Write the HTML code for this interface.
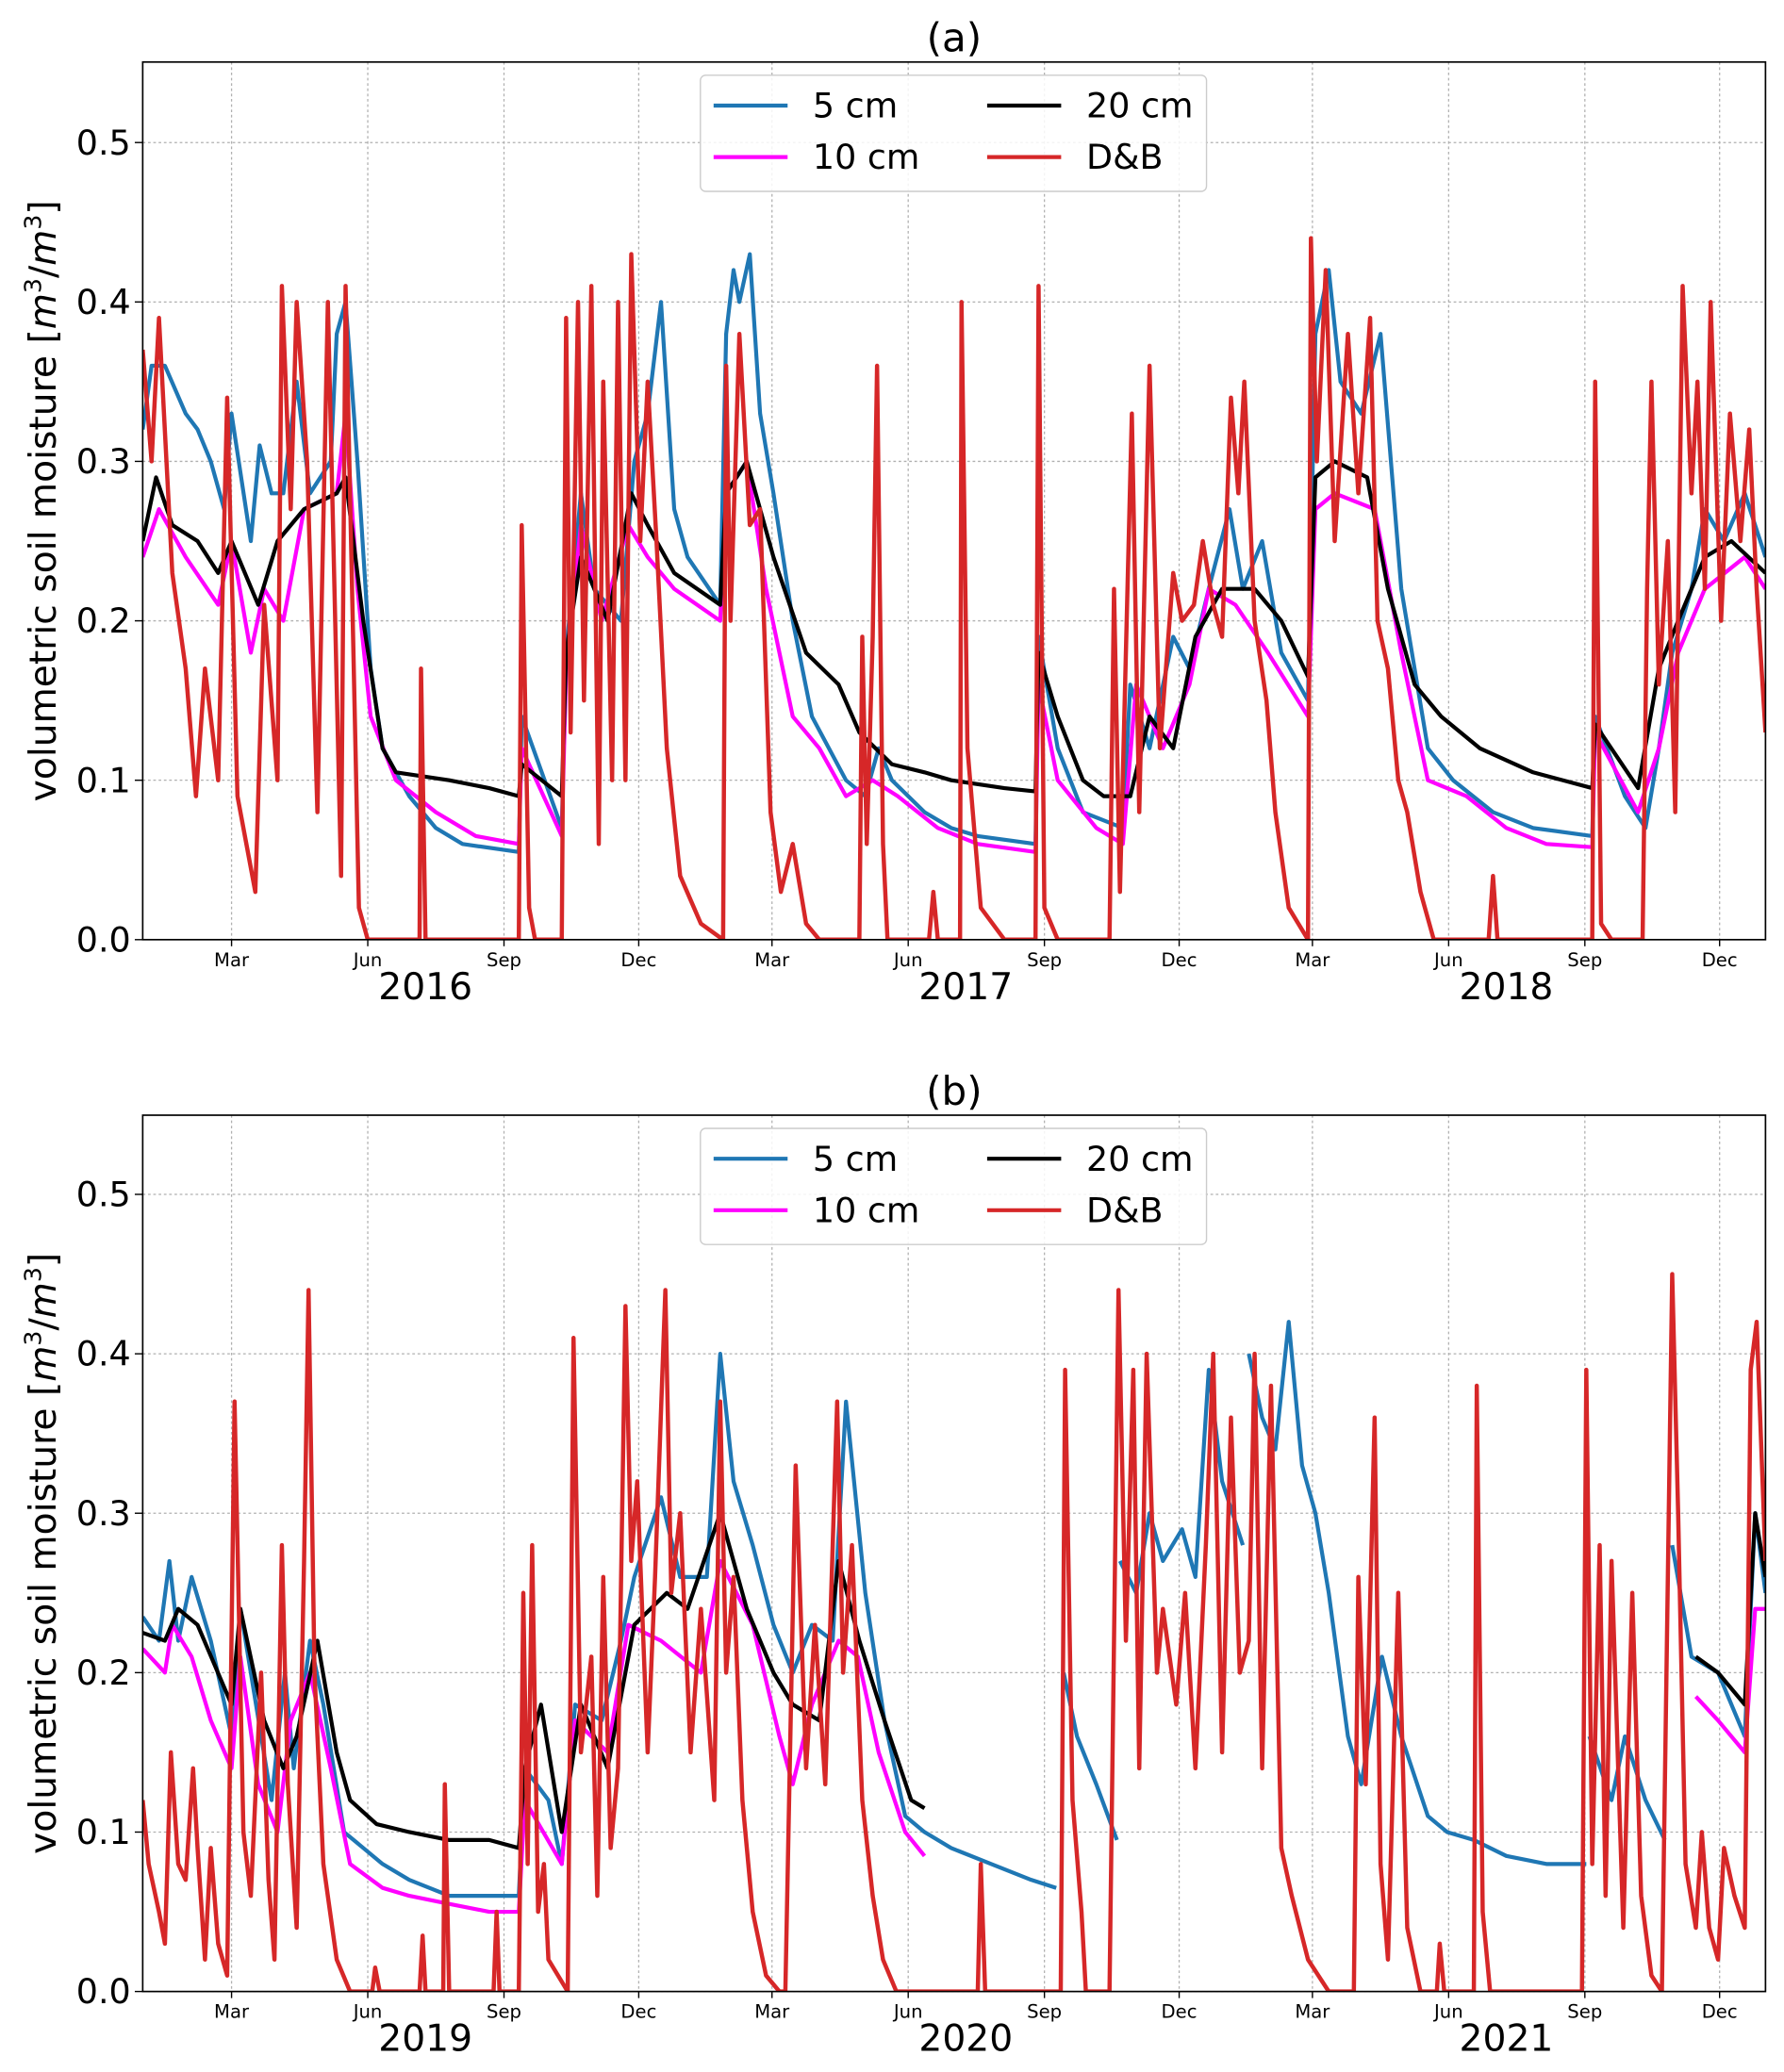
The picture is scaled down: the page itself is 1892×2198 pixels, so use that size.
<!DOCTYPE html>
<html><head><meta charset="utf-8">
<style>
html,body{margin:0;padding:0;background:#fff;}
svg{display:block;font-family:"DejaVu Sans","Liberation Sans",sans-serif;}
</style></head>
<body>
<svg id="chart" width="1892" height="2198" viewBox="0 0 1350 1570" preserveAspectRatio="none" xmlns="http://www.w3.org/2000/svg"></svg>
<script>
// ---- data: [day since Jan 1 of first year, volumetric soil moisture] ----
const yTicks = [0.0, 0.1, 0.2, 0.3, 0.4, 0.5];
const monthNames = ["Mar","Jun","Sep","Dec"];
const yearsA = ["2016","2017","2018"];
const yearsB = ["2019","2020","2021"];
const monthDays = [60,152,244,335,425,517,609,700,790,882,974,1065];
const yearMidDays = [182,547,912];
const seriesNames = ["5 cm","10 cm","20 cm","D&B"];

const a5 = [[0,.32],[6,.36],[15,.36],[29,.33],[37,.32],[46,.30],[55,.27],[60,.33],[73,.25],[79,.31],[87,.28],[95,.28],[104,.35],[113,.28],[127,.30],[131,.38],[137,.40],[145,.30],[154,.17],[162,.12],[180,.09],[198,.07],[216,.06],[254,.055],[256,.14],[283,.07],[286,.18],[296,.28],[305,.22],[323,.20],[332,.30],[341,.33],[350,.40],[359,.27],[368,.24],[390,.21],[394,.38],[399,.42],[403,.40],[410,.43],[417,.33],[426,.28],[439,.20],[452,.14],[475,.10],[488,.09],[497,.12],[506,.10],[528,.08],[546,.07],[564,.065],[603,.06],[605,.19],[618,.12],[635,.08],[662,.07],[667,.16],[680,.12],[696,.19],[707,.17],[720,.22],[734,.27],[743,.22],[756,.25],[769,.18],[787,.15],[792,.38],[801,.42],[809,.35],[823,.33],[836,.38],[850,.22],[868,.12],[885,.10],[912,.08],[939,.07],[979,.065],[981,.14],[1001,.09],[1015,.07],[1024,.12],[1033,.18],[1046,.22],[1055,.27],[1068,.25],[1082,.28],[1096,.24]];
const a10 = [[0,.24],[11,.27],[29,.24],[51,.21],[60,.25],[73,.18],[82,.22],[95,.20],[109,.27],[131,.28],[137,.33],[145,.22],[154,.14],[171,.10],[198,.08],[225,.065],[254,.06],[256,.12],[283,.065],[286,.17],[296,.26],[310,.20],[328,.26],[341,.24],[359,.22],[390,.20],[394,.28],[408,.30],[421,.22],[439,.14],[457,.12],[475,.09],[493,.10],[510,.09],[537,.07],[564,.06],[603,.055],[605,.16],[618,.10],[644,.07],[662,.06],[671,.16],[689,.12],[707,.16],[720,.22],[738,.21],[760,.18],[787,.14],[792,.27],[805,.28],[832,.27],[850,.18],[868,.10],[894,.09],[921,.07],[948,.06],[979,.058],[981,.13],[1010,.08],[1024,.12],[1037,.18],[1055,.22],[1082,.24],[1096,.22]];
const a20 = [[0,.25],[9,.29],[20,.26],[37,.25],[51,.23],[60,.25],[78,.21],[91,.25],[109,.27],[131,.28],[137,.29],[149,.20],[162,.12],[171,.105],[207,.10],[234,.095],[254,.09],[256,.11],[283,.09],[286,.18],[296,.24],[314,.20],[330,.28],[341,.26],[359,.23],[390,.21],[394,.28],[408,.30],[426,.24],[448,.18],[470,.16],[484,.13],[506,.11],[528,.105],[546,.10],[582,.095],[603,.093],[605,.18],[618,.14],[635,.10],[649,.09],[667,.09],[680,.14],[696,.12],[711,.19],[729,.22],[751,.22],[769,.20],[787,.165],[792,.29],[805,.30],[827,.29],[841,.22],[859,.16],[877,.14],[903,.12],[939,.105],[979,.095],[981,.135],[1010,.095],[1024,.17],[1037,.20],[1055,.24],[1073,.25],[1096,.23]];
const aDB = [[0,.37],[6,.30],[11,.39],[20,.23],[29,.17],[36,.09],[42,.17],[51,.10],[57,.34],[64,.09],[76,.03],[82,.21],[91,.10],[94,.41],[100,.27],[104,.40],[111,.30],[118,.08],[125,.40],[134,.04],[137,.41],[146,.02],[152,0],[187,0],[188,.17],[191,0],[254,0],[256,.26],[261,.02],[265,0],[283,0],[286,.39],[289,.13],[294,.40],[298,.15],[303,.41],[308,.06],[311,.35],[317,.10],[321,.40],[326,.10],[330,.43],[336,.25],[341,.35],[347,.25],[354,.12],[363,.04],[377,.01],[392,0],[394,.36],[397,.20],[403,.38],[410,.26],[417,.27],[424,.08],[431,.03],[439,.06],[448,.01],[457,0],[484,0],[486,.19],[489,.06],[493,.19],[496,.36],[500,.06],[503,0],[531,0],[534,.03],[537,0],[552,0],[553,.40],[557,.12],[566,.02],[582,0],[603,0],[605,.41],[609,.02],[618,0],[653,0],[656,.22],[660,.03],[668,.33],[673,.08],[680,.36],[687,.12],[696,.23],[702,.20],[710,.21],[716,.25],[723,.21],[729,.19],[735,.34],[740,.28],[744,.35],[751,.20],[759,.15],[765,.08],[774,.02],[787,0],[789,.44],[793,.30],[799,.42],[805,.25],[814,.38],[821,.28],[829,.39],[834,.20],[841,.17],[848,.10],[854,.08],[863,.03],[872,0],[909,0],[912,.04],[915,0],[979,0],[981,.35],[985,.01],[992,0],[1013,0],[1016,.22],[1019,.35],[1024,.16],[1030,.25],[1035,.08],[1040,.41],[1046,.28],[1050,.35],[1055,.22],[1059,.40],[1066,.20],[1072,.33],[1079,.25],[1085,.32],[1090,.22],[1096,.13]];

const b5 = [[0,.235],[11,.22],[18,.27],[24,.22],[33,.26],[46,.22],[60,.16],[66,.24],[73,.20],[87,.12],[96,.20],[102,.14],[113,.22],[122,.18],[136,.10],[162,.08],[180,.07],[207,.06],[234,.06],[254,.06],[258,.14],[274,.12],[283,.08],[292,.18],[310,.17],[323,.22],[332,.26],[350,.31],[363,.26],[381,.26],[390,.40],[399,.32],[412,.28],[426,.23],[439,.20],[452,.23],[466,.22],[475,.37],[488,.25],[501,.17],[515,.11],[528,.10],[546,.09],[573,.08],[600,.07],[617,.065],null,[622,.20],[631,.16],[644,.13],[658,.095],null,[660,.27],[671,.25],[680,.30],[689,.27],[702,.29],[711,.26],[720,.39],[729,.32],[743,.28],null,[747,.40],[756,.36],[765,.34],[774,.42],[783,.33],[792,.30],[801,.25],[814,.16],[823,.13],[837,.21],[850,.16],[868,.11],[881,.10],[899,.095],[921,.085],[948,.08],[975,.08],null,[977,.16],[992,.12],[1001,.16],[1015,.12],[1028,.095],null,[1033,.28],[1046,.21],[1064,.20],[1082,.16],[1089,.30],[1096,.25]];
const b10 = [[0,.215],[15,.20],[20,.23],[33,.21],[46,.17],[60,.14],[66,.21],[78,.13],[91,.10],[100,.17],[113,.20],[127,.14],[140,.08],[162,.065],[180,.06],[207,.055],[234,.05],[254,.05],[258,.12],[283,.08],[292,.17],[314,.15],[328,.23],[350,.22],[377,.20],[390,.27],[412,.23],[430,.16],[439,.13],[452,.18],[470,.22],[483,.21],[497,.15],[515,.10],[528,.085],null,[1049,.185],[1064,.17],[1082,.15],[1089,.24],[1096,.24]];
const b20 = [[0,.225],[15,.22],[24,.24],[37,.23],[60,.18],[66,.24],[82,.17],[95,.14],[104,.16],[118,.22],[131,.15],[140,.12],[158,.105],[180,.10],[207,.095],[234,.095],[254,.09],[258,.14],[269,.18],[283,.10],[296,.18],[314,.14],[332,.23],[354,.25],[368,.24],[390,.30],[408,.24],[426,.20],[439,.18],[457,.17],[470,.27],[484,.22],[501,.17],[519,.12],[528,.115],null,[1049,.21],[1064,.20],[1082,.18],[1089,.30],[1096,.26]];
const bDB = [[0,.12],[4,.08],[11,.05],[15,.03],[19,.15],[24,.08],[29,.07],[34,.14],[37,.09],[42,.02],[46,.09],[51,.03],[57,.01],[62,.37],[68,.10],[73,.06],[80,.20],[85,.07],[89,.02],[94,.28],[98,.13],[104,.04],[109,.27],[112,.44],[116,.20],[122,.08],[131,.02],[140,0],[155,0],[157,.015],[160,0],[187,0],[189,.035],[191,0],[203,0],[204,.13],[207,0],[237,0],[239,.05],[241,0],[254,0],[257,.25],[260,.08],[263,.28],[267,.05],[271,.08],[274,.02],[287,0],[291,.41],[296,.15],[303,.21],[307,.06],[311,.26],[316,.09],[321,.14],[326,.43],[330,.27],[334,.32],[341,.15],[346,.26],[353,.44],[357,.25],[363,.30],[370,.15],[377,.24],[386,.12],[390,.37],[394,.20],[399,.26],[405,.12],[412,.05],[421,.01],[430,0],[434,0],[441,.33],[448,.14],[454,.23],[461,.13],[469,.37],[473,.20],[479,.28],[486,.12],[493,.06],[500,.02],[509,0],[564,0],[566,.08],[569,0],[620,0],[623,.39],[628,.12],[634,.05],[637,0],[653,0],[659,.44],[664,.22],[669,.39],[673,.14],[678,.40],[685,.20],[689,.24],[698,.18],[704,.25],[711,.14],[718,.28],[723,.40],[729,.15],[735,.36],[741,.20],[747,.22],[751,.40],[756,.14],[762,.38],[769,.09],[776,.06],[787,.02],[801,0],[818,0],[821,.26],[826,.13],[832,.36],[836,.08],[841,.02],[848,.25],[854,.04],[863,0],[874,0],[876,.03],[879,0],[899,0],[901,.38],[905,.05],[910,0],[972,0],[975,.39],[979,.08],[984,.28],[988,.06],[992,.27],[1000,.04],[1006,.25],[1012,.06],[1019,.01],[1026,0],[1033,.45],[1037,.30],[1042,.08],[1049,.04],[1053,.10],[1058,.04],[1064,.02],[1068,.09],[1075,.06],[1082,.04],[1086,.39],[1090,.42],[1096,.27]];

const NS = "http://www.w3.org/2000/svg";
const svg = document.getElementById('chart');
const X0 = 108, X1 = 1336, DAYS = 1096;
function el(tag, attrs, parent){const e=document.createElementNS(NS,tag);for(const k in attrs)e.setAttribute(k,attrs[k]);(parent||svg).appendChild(e);return e;}

function panel(key, title, top, y0, years, s5, s10, s20, sdb){
  const yScale = v => y0 - v * 1208;
  const xScale = d => X0 + d * (X1 - X0) / DAYS;
  const g = el('g', {});
  
  
  const t = el('text', {x: 722, y: top - 8, 'font-size': 30, 'text-anchor': 'middle', fill: '#000'}, g);
  t.textContent = title;
  
  
  yTicks.forEach(v => {
    const l = el('line', {x1: X0, x2: X1, y1: yScale(v), y2: yScale(v), stroke: '#b0b0b0', 'stroke-width': 0.9, 'stroke-dasharray': '2,2'}, g);
    
    
    const tk = el('line', {x1: X0 - 6, x2: X0, y1: yScale(v), y2: yScale(v), stroke: '#000', 'stroke-width': 1}, g);
    
    
    const tl = el('text', {x: X0 - 9, y: yScale(v) + 9, 'font-size': 26, 'text-anchor': 'end'}, g);
    tl.textContent = v.toFixed(1);
    
    
  });
  monthDays.forEach((d, i) => {
    const x = xScale(d);
    const l = el('line', {x1: x, x2: x, y1: top, y2: y0, stroke: '#b0b0b0', 'stroke-width': 0.9, 'stroke-dasharray': '2,2'}, g);
    
    
    const tk = el('line', {x1: x, x2: x, y1: y0, y2: y0 + 5, stroke: '#000', 'stroke-width': 1}, g);
    
    
    const tl = el('text', {x: x, y: y0 + 20, 'font-size': 14, 'text-anchor': 'middle'}, g);
    tl.textContent = monthNames[i % 4];
    
    
  });
  yearMidDays.forEach((d, i) => {
    const tl = el('text', {x: xScale(d) + 10, y: y0 + 45, 'font-size': 28, 'text-anchor': 'middle'}, g);
    tl.textContent = years[i];
    
    
  });
  const yl = el('text', {x: 0, y: 0, 'font-size': 28, 'text-anchor': 'middle', transform: `translate(42,${(top + y0) / 2}) rotate(-90)`}, g);
  yl.innerHTML = 'volumetric soil moisture [<tspan font-style="italic">m</tspan><tspan font-size="18" dy="-11">3</tspan><tspan dy="11">/</tspan><tspan font-style="italic">m</tspan><tspan font-size="18" dy="-11">3</tspan><tspan dy="11">]</tspan>';
  
  
  const cp = el('clipPath', {id: 'clip-' + key}, g);
  el('rect', {x: X0, y: top, width: X1 - X0, height: y0 - top}, cp);
  const colors = ['#1f77b4', '#ff00ff', '#000000', '#d62728'];
  const widths = [3, 3, 3, 3.2];
  const names = ['series-5cm', 'series-10cm', 'series-20cm', 'series-db'];
  [s5, s10, s20, sdb].forEach((s, i) => {
    let dstr = '', pen = false;
    s.forEach(p => {
      if (!p) { pen = false; return; }
      dstr += (pen ? 'L' : 'M') + xScale(p[0]).toFixed(1) + ',' + yScale(p[1]).toFixed(1);
      pen = true;
    });
    const path = el('path', {d: dstr, fill: 'none', stroke: colors[i], 'stroke-width': widths[i], 'stroke-linejoin': 'round', 'clip-path': `url(#clip-${key})`}, g);
    
    
  });
  const fr = el('rect', {x: X0, y: top, width: X1 - X0, height: y0 - top, fill: 'none', stroke: '#000', 'stroke-width': 1.2}, g);
  
  
  const lg = el('g', {}, g);
  
  
  el('rect', {x: 530, y: top + 10, width: 383, height: 88, rx: 4, fill: '#fff', 'fill-opacity': 0.85, stroke: '#ccc', 'stroke-width': 1}, lg);
  const pos = [[540, top + 33], [540, top + 72], [747, top + 33], [747, top + 72]];
  [0, 1, 2, 3].forEach(i => {
    const [lx, ly] = pos[i];
    const entry = el('g', {}, lg);
    
    
    el('line', {x1: lx, x2: lx + 56, y1: ly, y2: ly, stroke: colors[i], 'stroke-width': 3}, entry);
    const tx = el('text', {x: lx + 75, y: ly + 9, 'font-size': 26}, entry);
    tx.textContent = seriesNames[i];
  });
}
panel('a', '(a)', 47, 712, yearsA, a5, a10, a20, aDB);
panel('b', '(b)', 845, 1509, yearsB, b5, b10, b20, bDB);
</script>
</body></html>
